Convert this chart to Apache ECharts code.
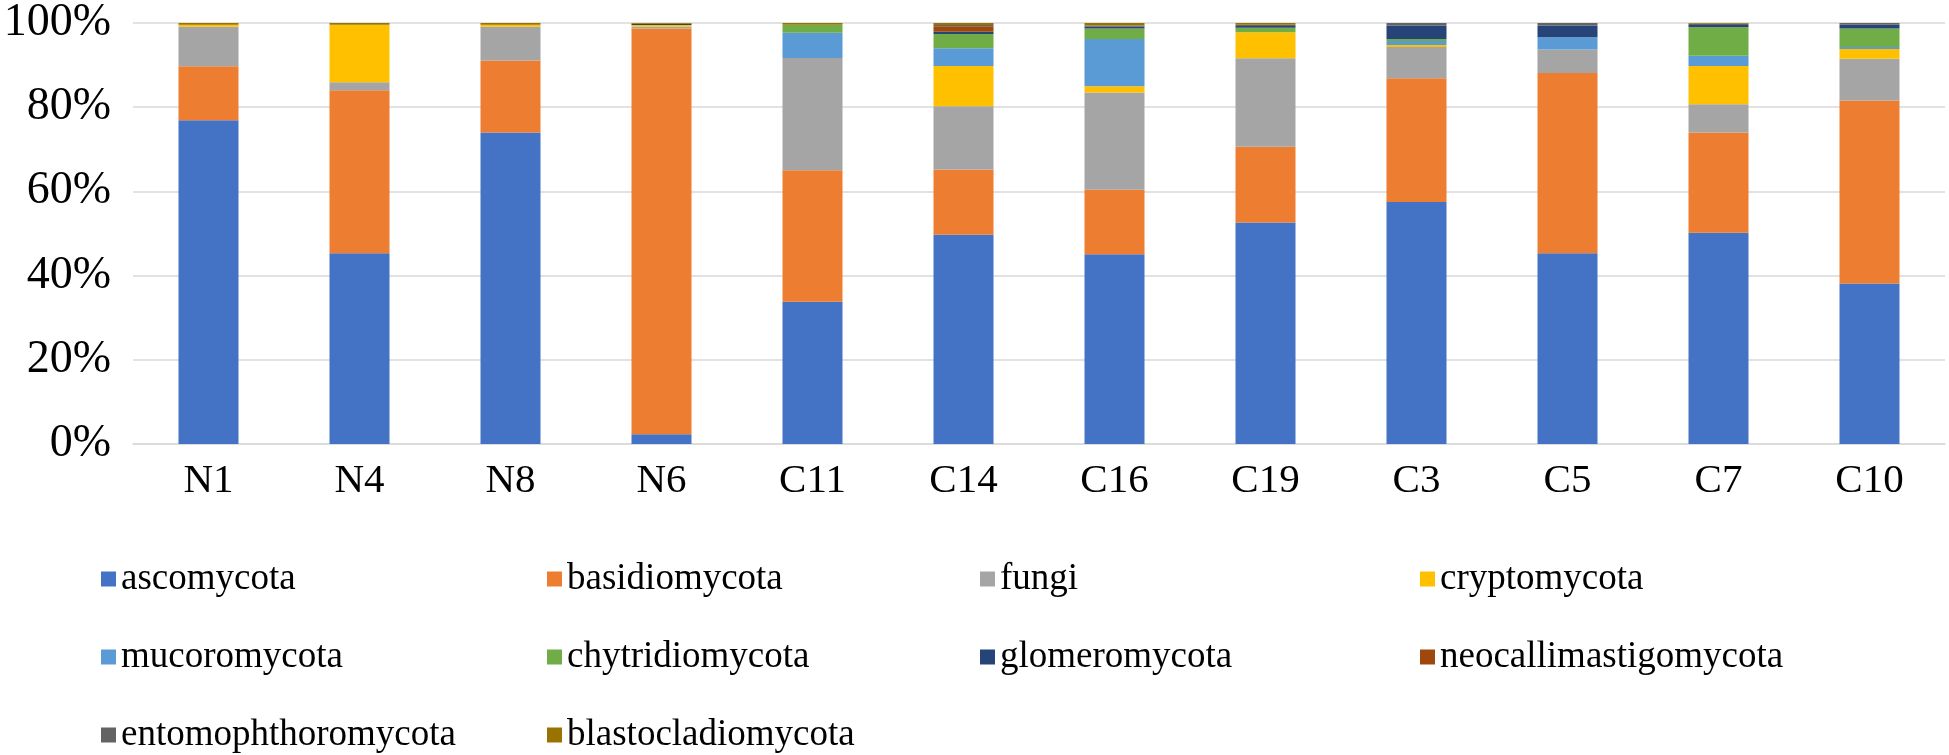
<!DOCTYPE html>
<html>
<head>
<meta charset="utf-8">
<script src="https://cdn.jsdelivr.net/npm/echarts@6/dist/echarts.min.js"></script>
<style>
  html, body { margin: 0; padding: 0; background: #fff; }
  #chart { width: 1949px; height: 755px; }
</style>
</head>
<body>
<div id="chart"></div>
<script>
// samples along the x axis
var samples = ['N1', 'N4', 'N8', 'N6', 'C11', 'C14', 'C16', 'C19', 'C3', 'C5', 'C7', 'C10'];

// relative abundance (%) per phylum
var ascomycota         = [76.9, 45.3, 74.0, 2.3, 33.8, 49.7, 45.1, 52.6, 57.5, 45.3, 50.2, 38.1];
var basidiomycota      = [12.8, 38.7, 17.1, 96.4, 31.2, 15.5, 15.3, 18.0, 29.4, 42.8, 23.8, 43.5];
var fungi              = [9.4, 1.9, 8.0, 0.4, 26.7, 15.0, 23.1, 21.0, 7.4, 5.6, 6.7, 9.9];
var cryptomycota       = [0.5, 13.7, 0.5, 0.4, 0, 9.6, 1.5, 6.2, 0.5, 0, 9.1, 2.3];
var mucoromycota       = [0, 0, 0, 0, 6.0, 4.2, 11.2, 0, 0.9, 2.9, 2.4, 0.5];
var chytridiomycota    = [0, 0, 0, 0, 1.9, 3.4, 2.5, 1.1, 0.5, 0, 6.8, 4.4];
var glomeromycota      = [0, 0, 0, 0.3, 0, 0.5, 0.4, 0.4, 3.2, 2.8, 0.5, 0.9];
var neocallimastigomycota = [0, 0, 0, 0, 0, 1.3, 0, 0, 0, 0, 0, 0];
var entomophthoromycota   = [0, 0, 0, 0, 0, 0.3, 0.3, 0.3, 0.6, 0.6, 0.3, 0.4];
var blastocladiomycota    = [0.4, 0.4, 0.4, 0.2, 0.4, 0.5, 0.6, 0.4, 0, 0, 0.2, 0];

var yTicks = [0, 20, 40, 60, 80, 100];

var phyla = [
  { name: 'ascomycota', data: ascomycota, color: '#4472C4' },
  { name: 'basidiomycota', data: basidiomycota, color: '#ED7D31' },
  { name: 'fungi', data: fungi, color: '#A5A5A5' },
  { name: 'cryptomycota', data: cryptomycota, color: '#FFC000' },
  { name: 'mucoromycota', data: mucoromycota, color: '#5B9BD5' },
  { name: 'chytridiomycota', data: chytridiomycota, color: '#70AD47' },
  { name: 'glomeromycota', data: glomeromycota, color: '#264478' },
  { name: 'neocallimastigomycota', data: neocallimastigomycota, color: '#9E480E' },
  { name: 'entomophthoromycota', data: entomophthoromycota, color: '#636363' },
  { name: 'blastocladiomycota', data: blastocladiomycota, color: '#997300' }
];

var font = '"Liberation Serif", "Times New Roman", serif';

// legend laid out as a 4 column grid, one legend block per item
var colX = [101, 547, 980, 1420];
var rowY = [560, 638, 716];
var legends = phyla.map(function(p, i) {
  return {
    data: [p.name],
    left: colX[i % 4],
    top: rowY[Math.floor(i / 4)],
    padding: 0,
    icon: 'rect',
    itemWidth: 15,
    itemHeight: 15,
    selectedMode: false,
    textStyle: { fontFamily: font, fontSize: 37, color: '#000', lineHeight: 38 }
  };
});

var series = phyla.map(function(p) {
  return {
    name: p.name,
    type: 'bar',
    stack: 'total',
    barWidth: 60,
    data: p.data,
    itemStyle: { color: p.color },
    emphasis: { disabled: true }
  };
});

var chart = echarts.init(document.getElementById('chart'));
chart.setOption({
  animation: false,
  backgroundColor: '#fff',
  grid: { left: 133, right: 4, top: 13, bottom: 311, containLabel: false },
  legend: legends,
  xAxis: {
    type: 'category',
    data: samples,
    axisTick: { show: false },
    axisLine: { lineStyle: { color: '#D9D9D9', width: 1.5 } },
    axisLabel: { fontFamily: font, fontSize: 41, color: '#000', margin: 17 }
  },
  yAxis: {
    type: 'value',
    min: yTicks[0],
    max: yTicks[yTicks.length - 1],
    interval: 20,
    axisLine: { show: false },
    axisTick: { show: false },
    splitLine: { lineStyle: { color: '#D9D9D9', width: 1.5 } },
    axisLabel: {
      fontFamily: font, fontSize: 46, color: '#000', margin: 22,
      formatter: function(v) { return v + '%'; }
    }
  },
  series: series
});
</script>
</body>
</html>
